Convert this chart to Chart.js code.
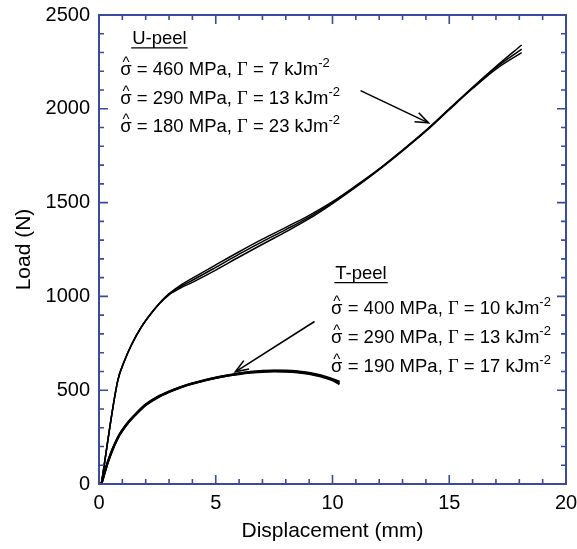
<!DOCTYPE html>
<html>
<head>
<meta charset="utf-8">
<script src="https://cdn.jsdelivr.net/npm/chart.js@4.4.0/dist/chart.umd.min.js"></script>
<style>
html,body{margin:0;padding:0;background:#fff;}
#wrap{width:577px;height:549px;position:relative;}
</style>
</head>
<body>
<div id="wrap"><canvas id="c" width="577" height="549"></canvas></div>
<script>
// ---- Data ----
const uX = [0.1, 0.8, 1.1, 1.4, 1.8, 2.2, 2.6, 3.0, 3.5, 4.0, 5.0, 6.0, 7.0, 8.0, 9.0, 10.0, 11.0, 12.0, 13.0, 14.0, 15.0, 16.0, 17.0, 18.1];
const uLoad460 = [0, 550, 660, 745, 835, 905, 965, 1015, 1060, 1097, 1168, 1238, 1305, 1368, 1432, 1505, 1590, 1680, 1780, 1885, 2000, 2115, 2225, 2340];
const uLoad290 = [0, 550, 660, 745, 835, 905, 965, 1012, 1053, 1086, 1155, 1225, 1292, 1356, 1423, 1500, 1586, 1678, 1778, 1883, 1998, 2112, 2220, 2318];
const uLoad180 = [0, 548, 658, 743, 833, 903, 962, 1008, 1045, 1075, 1140, 1210, 1278, 1344, 1414, 1495, 1582, 1675, 1775, 1880, 1995, 2108, 2212, 2300];

const tX = [0.1, 0.4, 0.8, 1.2, 1.6, 2.0, 2.5, 3.0, 3.5, 4.0, 4.5, 5.0, 5.5, 6.0, 6.5, 7.0, 7.5, 8.0, 8.5, 9.0, 9.5, 10.0, 10.3];
const tLoad400 = [0, 125, 245, 320, 375, 422, 462, 492, 516, 536, 552, 566, 578, 588, 596, 601, 603, 602, 598, 590, 576, 557, 540];
const tLoad290 = [0, 123, 243, 318, 373, 420, 460, 490, 515, 535, 551, 565, 577, 586, 593, 598, 600, 599, 595, 587, 573, 553, 532];
const tLoad190 = [0, 127, 247, 322, 377, 424, 464, 493, 517, 537, 553, 567, 579, 590, 598, 603, 605, 604, 600, 592, 579, 560, 545];

const xTicks = [0, 5, 10, 15, 20];
const yTicks = [0, 500, 1000, 1500, 2000, 2500];

const uPeelLines = [["460", "7"], ["290", "13"], ["180", "23"]];
const tPeelLines = [["400", "10"], ["290", "13"], ["190", "17"]];

// ---- Build datasets ----
function pts(xs, ys){ return xs.map((x,i)=>({x:x, y:ys[i]})); }
function ds(xs, ys, w){
  return {data: pts(xs, ys), showLine:true, borderColor:'#000', borderWidth:w,
          pointRadius:0, fill:false, cubicInterpolationMode:'monotone'};
}

const AXIS = '#3a4a9c';
const FONT = '"Liberation Sans", Arial, Helvetica, sans-serif';

const framePlugin = {
  id:'frame',
  afterDatasetsDraw(chart){
    const {ctx, chartArea:a, scales:{x, y}} = chart;
    ctx.save();
    ctx.strokeStyle = AXIS;
    ctx.lineWidth = 2;
    ctx.strokeRect(a.left, a.top, a.right-a.left, a.bottom-a.top);
    ctx.lineWidth = 1.6;
    for(let v=0; v<=20; v++){
      const px = x.getPixelForValue(v);
      const len = (v%5===0)?9:5;
      ctx.beginPath();
      ctx.moveTo(px, a.bottom); ctx.lineTo(px, a.bottom-len);
      ctx.moveTo(px, a.top); ctx.lineTo(px, a.top+len);
      ctx.stroke();
    }
    for(let v=0; v<=2500; v+=100){
      const py = y.getPixelForValue(v);
      const len = (v%500===0)?9:5;
      ctx.beginPath();
      ctx.moveTo(a.left, py); ctx.lineTo(a.left+len, py);
      ctx.moveTo(a.right, py); ctx.lineTo(a.right-len, py);
      ctx.stroke();
    }
    ctx.restore();

    // annotations
    ctx.save();
    ctx.fillStyle = '#000';
    ctx.strokeStyle = '#000';
    ctx.textBaseline = 'alphabetic';
    ctx.textAlign = 'left';
    const fs = 18.5;
    function header(txt, xv, yv){
      const px = x.getPixelForValue(xv), py = y.getPixelForValue(yv);
      ctx.font = fs + 'px ' + FONT;
      ctx.fillText(txt, px, py);
      const w = ctx.measureText(txt).width;
      ctx.lineWidth = 1.2;
      ctx.beginPath(); ctx.moveTo(px-1, py+4); ctx.lineTo(px+w+1, py+4); ctx.stroke();
    }
    function sigmaLine(mpa, kj, xv, yv){
      let px = x.getPixelForValue(xv);
      const py = y.getPixelForValue(yv);
      ctx.font = fs + 'px ' + FONT;
      ctx.fillText('σ', px, py);
      const sw = ctx.measureText('σ').width;
      ctx.font = '15px ' + FONT;
      const hw = ctx.measureText('^').width;
      ctx.fillText('^', px + (sw-hw)/2, py-8);
      px += sw;
      ctx.font = fs + 'px ' + FONT;
      let t = ' = ' + mpa + ' MPa, ';
      ctx.fillText(t, px, py); px += ctx.measureText(t).width;
      ctx.font = fs + 'px "Liberation Serif", "Times New Roman", serif';
      ctx.fillText('Γ', px, py); px += ctx.measureText('Γ').width;
      ctx.font = fs + 'px ' + FONT;
      t = ' = ' + kj + ' kJm';
      ctx.fillText(t, px, py); px += ctx.measureText(t).width;
      ctx.font = '13px ' + FONT;
      ctx.fillText('-2', px, py-8);
    }
    function arrow(x1,y1,x2,y2){
      const p1x = x.getPixelForValue(x1), p1y = y.getPixelForValue(y1);
      const p2x = x.getPixelForValue(x2), p2y = y.getPixelForValue(y2);
      ctx.lineWidth = 1.6;
      ctx.beginPath(); ctx.moveTo(p1x,p1y); ctx.lineTo(p2x,p2y); ctx.stroke();
      const ang = Math.atan2(p2y-p1y, p2x-p1x);
      const L = 14, s = 0.36;
      ctx.beginPath();
      ctx.moveTo(p2x - L*Math.cos(ang-s), p2y - L*Math.sin(ang-s));
      ctx.lineTo(p2x, p2y);
      ctx.lineTo(p2x - L*Math.cos(ang+s), p2y - L*Math.sin(ang+s));
      ctx.stroke();
    }
    header('U-peel', 1.42, 2346);
    uPeelLines.forEach((l,i)=> sigmaLine(l[0], l[1], 0.91, 2181 - i*153));
    header('T-peel', 10.12, 1095);
    tPeelLines.forEach((l,i)=> sigmaLine(l[0], l[1], 9.94, 905 - i*153));
    arrow(11.2, 2097, 14.11, 1925);
    arrow(9.23, 866, 5.84, 598);
    ctx.restore();
  }
};

new Chart(document.getElementById('c'), {
  type:'scatter',
  data:{ datasets:[
    ds(uX, uLoad460, 1.5), ds(uX, uLoad290, 1.5), ds(uX, uLoad180, 1.5),
    ds(tX, tLoad400, 2.2), ds(tX, tLoad290, 2.2), ds(tX, tLoad190, 2.2)
  ]},
  options:{
    responsive:false, animation:false,
    layout:{padding:{left:0, right:11, top:15, bottom:0}},
    plugins:{legend:{display:false}, tooltip:{enabled:false}},
    scales:{
      x:{type:'linear', min:0, max:20,
         afterBuildTicks(s){ s.ticks = xTicks.map(v=>({value:v})); },
         afterFit(s){ s.height = 65; s.paddingLeft = 0; s.paddingRight = 0; },
         grid:{display:false, drawTicks:false}, border:{display:false},
         ticks:{color:'#000', padding:7, font:{family:FONT, size:20}, maxRotation:0,
                callback:(v)=>String(v)},
         title:{display:true, text:'Displacement (mm)', color:'#000', font:{family:FONT, size:21}, padding:{top:0,bottom:5}}
      },
      y:{type:'linear', min:0, max:2500,
         afterBuildTicks(s){ s.ticks = yTicks.map(v=>({value:v})); },
         afterFit(s){ s.width = 99; s.paddingTop = 0; s.paddingBottom = 0; },
         grid:{display:false, drawTicks:false}, border:{display:false},
         ticks:{color:'#000', padding:9, font:{family:FONT, size:20},
                callback:(v)=>String(v)},
         title:{display:true, text:'Load (N)', color:'#000', font:{family:FONT, size:21}, padding:{top:12,bottom:0}}
      }
    }
  },
  plugins:[framePlugin]
});
</script>
</body>
</html>
